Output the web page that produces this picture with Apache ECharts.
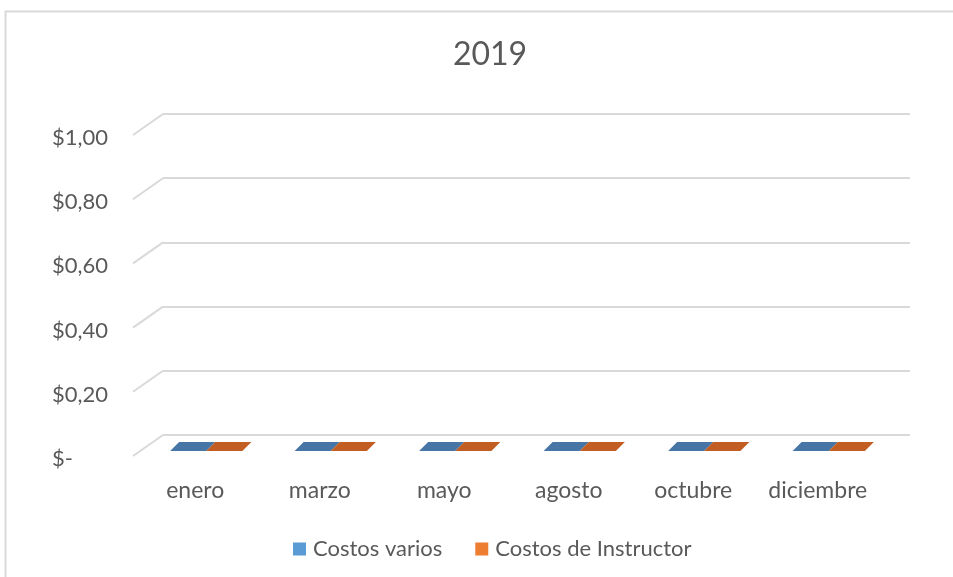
<!DOCTYPE html>
<html>
<head>
<meta charset="utf-8">
<script src="https://cdn.jsdelivr.net/npm/echarts@6/dist/echarts.min.js"></script>
<style>html,body{margin:0;padding:0;background:#fff}#c{width:953px;height:577px}</style>
</head>
<body>
<div id="c"></div>
<script>
const titleText = '2019';
const categories = ['enero', 'marzo', 'mayo', 'agosto', 'octubre', 'diciembre'];
const costosVarios = [0, 0, 0, 0, 0, 0];
const costosInstructor = [0, 0, 0, 0, 0, 0];
const yTicks = [0, 0.2, 0.4, 0.6, 0.8, 1.0];
const seriesNames = ['Costos varios', 'Costos de Instructor'];

const FONT = 'Lato';
const TXT = '#595959';
const GRID = '#d9d9d9';
const DX = 30, DY = 21; // depth offset (back wall -> front)

function fmt(v) {
  if (Math.abs(v) < 1e-9) return '$-';
  return '$' + v.toFixed(2).replace('.', ',');
}

function barRender(side, faceColor) {
  return function (params, api) {
    const i = api.value(0);
    const v = api.value(1);
    const c = api.coord([i, v]);
    const z = api.coord([i, 0]);
    const bw = api.size([1, 0])[0];
    const w = bw * 0.29;
    const cx = c[0];
    const backY = c[1] + 7, frontY = c[1] + 16;
    const bs = -10, fs = -19;
    let bx0, bx1, fx0, fx1;
    if (side === 0) { bx0 = cx + bs - w; bx1 = cx + bs; fx0 = cx + fs - w; fx1 = cx + fs; }
    else { bx0 = cx + bs; bx1 = cx + bs + w; fx0 = cx + fs; fx1 = cx + fs + w; }
    const children = [{
      type: 'polygon',
      shape: { points: [[bx0, backY], [bx1, backY], [fx1, frontY], [fx0, frontY]] },
      style: { fill: faceColor }
    }];
    const h = (z[1] + 16) - frontY;
    if (h > 0.5) {
      children.push({ type: 'rect', shape: { x: fx0, y: frontY, width: fx1 - fx0, height: h }, style: { fill: api.visual('color') } });
    }
    return { type: 'group', children: children };
  };
}

const chart = echarts.init(document.getElementById('c'), null, { renderer: 'canvas' });
chart.setOption({
  backgroundColor: '#ffffff',
  animation: false,
  graphic: [{
    type: 'rect', left: 3, top: 9, shape: { x: 0, y: 0, width: 1000, height: 1000 },
    style: { fill: 'none', stroke: GRID, lineWidth: 2 }, silent: true, z: -10
  }],
  title: {
    text: titleText, left: 485, textAlign: 'center', top: 34,
    textStyle: { fontFamily: FONT, fontSize: 32, fontWeight: 'normal', color: TXT }
  },
  legend: {
    data: seriesNames, left: 288, top: 533, icon: 'rect', itemWidth: 13, itemHeight: 13, itemGap: 33,
    textStyle: { fontFamily: FONT, fontSize: 22, color: TXT, padding: [0, 0, 0, 2] }
  },
  grid: [
    { left: 163, top: 114, width: 747, height: 321 },
    { left: 163 - DX, top: 114 + DY, width: 747, height: 321 },
    { left: 163 - DX, top: 114 + DY + 3, width: 747, height: 321 }
  ],
  xAxis: [
    { type: 'category', gridIndex: 0, data: categories, axisLine: { show: false }, axisTick: { show: false }, axisLabel: { show: false }, splitLine: { show: false } },
    { type: 'category', gridIndex: 1, data: categories, axisLine: { show: false }, axisTick: { show: false },
      axisLabel: { fontFamily: FONT, fontSize: 23, color: TXT, margin: 23, interval: 0 } },
    { type: 'category', gridIndex: 2, data: categories, show: false }
  ],
  yAxis: [
    { type: 'value', gridIndex: 0, min: 0, max: 1, interval: 0.2, axisLine: { show: false }, axisTick: { show: false }, axisLabel: { show: false },
      splitLine: { lineStyle: { color: GRID, width: 2 } } },
    { type: 'value', gridIndex: 1, min: 0, max: 1, interval: 0.2, show: false },
    { type: 'value', gridIndex: 2, min: 0, max: 1, interval: 0.2, axisLine: { show: false }, axisTick: { show: false }, splitLine: { show: false },
      axisLabel: { fontFamily: FONT, fontSize: 22, color: TXT, align: 'left', margin: 81, formatter: fmt } }
  ],
  series: [
    {
      name: 'floor', type: 'custom', xAxisIndex: 0, yAxisIndex: 0, silent: true,
      data: yTicks.map(v => [0, v]),
      renderItem: function (params, api) {
        const c = api.coord([0, api.value(1)]);
        const bw = api.size([1, 0])[0];
        const x0 = c[0] - bw / 2;
        return { type: 'line', shape: { x1: x0, y1: c[1], x2: x0 - DX, y2: c[1] + DY }, style: { stroke: GRID, lineWidth: 2 } };
      }
    },
    {
      name: seriesNames[0], type: 'custom', xAxisIndex: 0, yAxisIndex: 0,
      itemStyle: { color: '#5b9bd5' },
      data: costosVarios.map((v, i) => [i, v]),
      renderItem: barRender(0, '#4675a6')
    },
    {
      name: seriesNames[1], type: 'custom', xAxisIndex: 0, yAxisIndex: 0,
      itemStyle: { color: '#ed7d31' },
      data: costosInstructor.map((v, i) => [i, v]),
      renderItem: barRender(1, '#c25e22')
    }
  ]
});
</script>
</body>
</html>
